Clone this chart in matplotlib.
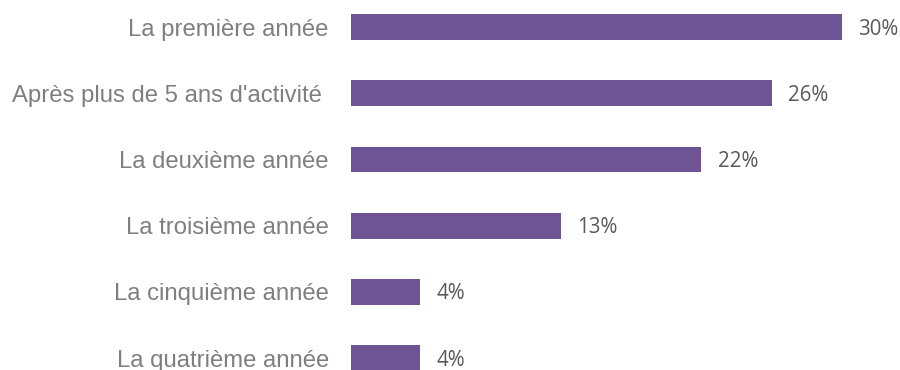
import matplotlib.pyplot as plt

# données
categories = ["La première année", "Après plus de 5 ans d'activité ", "La deuxième année",
              "La troisième année", "La cinquième année", "La quatrième année"]
values = [30.0, 25.7, 21.4, 12.8, 4.2, 4.2]
value_labels = ["30%", "26%", "22%", "13%", "4%", "4%"]

fig = plt.figure(figsize=(9, 3.7), dpi=100)
ax = fig.add_axes([351 / 900, 0, 549 / 900, 1])

y = list(range(len(categories)))
ax.barh(y, values, height=0.39, color='#6E5494')

ax.set_xlim(0, 33.54)
ax.set_ylim(5.18, -0.408)

for yi, v, lab in zip(y, values, value_labels):
    ax.text(v + 1.0, yi + 0.03, lab, va='center', ha='left', fontsize=14.8,
            family=['Open Sans', 'DejaVu Sans'], color='#595959')

ax.set_yticks(y)
ax.set_yticklabels(categories, fontsize=17.2, family='Liberation Sans', color='#7F7F7F')
ax.tick_params(axis='y', length=0, pad=16)
ax.set_xticks([])
for s in ax.spines.values():
    s.set_visible(False)

fig.savefig('out.png', dpi=100)
